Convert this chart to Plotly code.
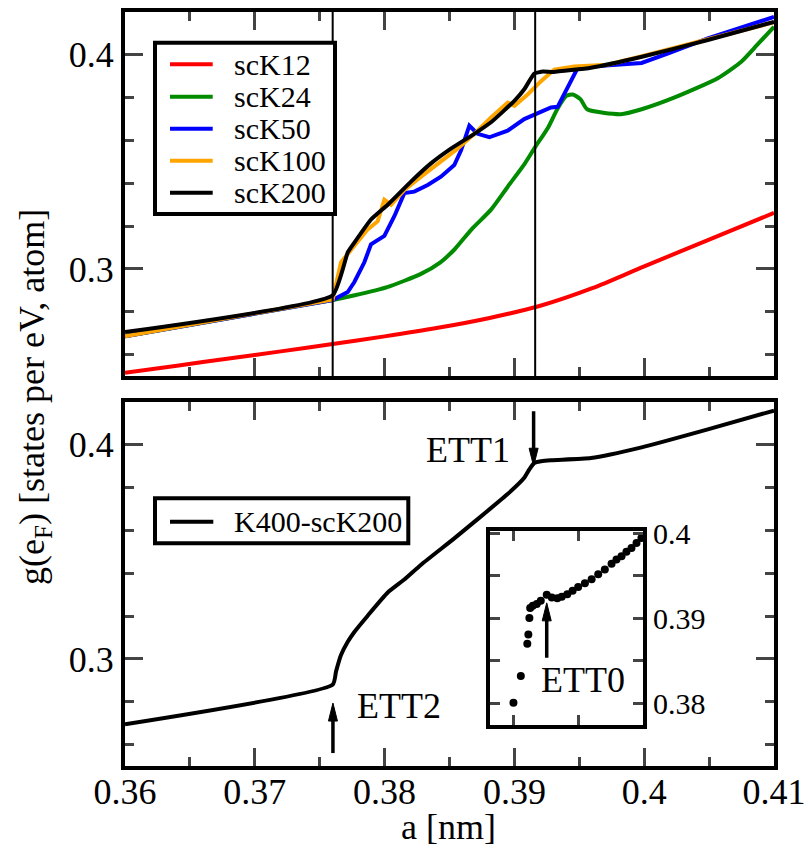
import plotly.graph_objects as go

# ---------------- data ----------------
x_sck12 = [0.360, 0.364, 0.368, 0.372, 0.376, 0.380, 0.384, 0.388, 0.392, 0.396, 0.400, 0.405, 0.410]
y_sck12 = [0.2515, 0.2548, 0.2582, 0.2615, 0.2649, 0.2685, 0.2724, 0.2770, 0.2828, 0.2910, 0.3012, 0.3137, 0.3262]

x_sck24 = [0.360, 0.376, 0.3777, 0.3802, 0.3828, 0.3843, 0.3854, 0.3867, 0.3882, 0.3895, 0.3908, 0.3916,
           0.3926, 0.3933, 0.3940, 0.3945, 0.3951, 0.3956, 0.3982, 0.3998, 0.4023, 0.4057, 0.4075, 0.4087, 0.4100]
y_sck24 = [0.2686, 0.2855, 0.2877, 0.2915, 0.2977, 0.3031, 0.3092, 0.3185, 0.3277, 0.3385, 0.3492, 0.3569,
           0.3661, 0.3746, 0.3808, 0.3815, 0.3792, 0.3746, 0.3723, 0.3746, 0.3800, 0.3892, 0.3969, 0.4046, 0.4131]

x_sck50 = [0.360, 0.376, 0.37716, 0.37767, 0.37844, 0.37895, 0.37998, 0.38075, 0.38152, 0.38229, 0.38332,
           0.38434, 0.38537, 0.38589, 0.38653, 0.38717, 0.38807, 0.38948, 0.39076, 0.39205, 0.39282, 0.39333,
           0.3941, 0.39487, 0.3959, 0.3985, 0.3998, 0.4018, 0.4049, 0.4100]
y_sck50 = [0.2686, 0.2855, 0.2892, 0.2939, 0.3031, 0.3115, 0.3154, 0.3246, 0.3354, 0.3361, 0.3392,
           0.3431, 0.3485, 0.3554, 0.3669, 0.3631, 0.3615, 0.3646, 0.3700, 0.3731, 0.3754, 0.3757,
           0.3846, 0.3938, 0.3946, 0.3955, 0.3962, 0.4006, 0.4077, 0.4177]

x_sck100 = [0.360, 0.376, 0.37664, 0.37767, 0.3787, 0.37947, 0.37998, 0.3805, 0.38152, 0.38281, 0.3846,
            0.38562, 0.38691, 0.3882, 0.38948, 0.3900, 0.39102, 0.39205, 0.39307, 0.39461, 0.39718, 0.39975, 0.4100]
y_sck100 = [0.2686, 0.2857, 0.3031, 0.3108, 0.3185, 0.3223, 0.3323, 0.3300, 0.3369, 0.3431, 0.3515,
            0.3562, 0.3631, 0.3708, 0.3777, 0.3762, 0.3815, 0.3877, 0.3931, 0.3946, 0.3954, 0.3992, 0.4152]

x_sck200 = [0.360, 0.376, 0.37716, 0.37767, 0.37895, 0.38024, 0.38203, 0.38357, 0.38511, 0.38691, 0.3882,
            0.3900, 0.39076, 0.39153, 0.3922, 0.3930, 0.3959, 0.39975, 0.4049, 0.4100]
y_sck200 = [0.2705, 0.2877, 0.3077, 0.3123, 0.3231, 0.3300, 0.3408, 0.3493, 0.3562, 0.3631, 0.3685,
            0.3785, 0.3839, 0.3912, 0.3922, 0.3920, 0.3940, 0.3990, 0.4069, 0.4154]

x_k400 = [0.360, 0.376, 0.37626, 0.37664, 0.37716, 0.37767, 0.3787, 0.38024, 0.38152, 0.38281, 0.38537,
          0.38691, 0.38948, 0.39076, 0.39115, 0.39153, 0.39205, 0.39282, 0.3959, 0.3998, 0.4049, 0.4100]
y_k400 = [0.2695, 0.2880, 0.2942, 0.3018, 0.3080, 0.3126, 0.3202, 0.3310, 0.3371, 0.3440, 0.3563,
          0.3640, 0.3770, 0.3846, 0.3885, 0.3915, 0.3923, 0.3928, 0.3938, 0.3988, 0.4072, 0.4160]

x_ett0 = [0.38948, 0.38999, 0.39056, 0.39106, 0.39114, 0.39122, 0.39128, 0.39148, 0.39179, 0.39210,
          0.39256, 0.39295, 0.39338, 0.39372, 0.39415, 0.39456, 0.39499, 0.39551, 0.39603, 0.39654,
          0.39705, 0.39757, 0.39795, 0.39834, 0.39872, 0.39911, 0.39950, 0.39988, 0.40006]
y_ett0 = [0.37747, 0.38007, 0.38322, 0.38699, 0.38808, 0.39002, 0.39119, 0.39146, 0.39166, 0.39204,
          0.39274, 0.39242, 0.39235, 0.39251, 0.39282, 0.39321, 0.39367, 0.39410, 0.39457, 0.39515,
          0.39573, 0.39639, 0.39690, 0.39728, 0.39779, 0.39825, 0.39883, 0.39942, 0.39981]

series_names = ["scK12", "scK24", "scK50", "scK100", "scK200"]
series_colors = ["#ff0000", "#008b00", "#0000ff", "#ffa500", "#000000"]
series_x = [x_sck12, x_sck24, x_sck50, x_sck100, x_sck200]
series_y = [y_sck12, y_sck24, y_sck50, y_sck100, y_sck200]
series_smooth = [0.8, 0.6, 0.0, 0.0, 0.4]

ett_lines = [0.376, 0.3916]

# annotations: label, x, y, axis
ett_labels = [("ETT1", 0.38640, 0.3974, "x2", "y2"),
              ("ETT2", 0.38113, 0.2782, "x2", "y2"),
              ("ETT0", 0.39536, 0.3827, "x3", "y3")]
# arrows: tip x, tip y, direction (+1 up, -1 down), length px, axes
ett_arrows = [(0.39148, 0.3900, -1, 55, "x2", "y2"),
              (0.37602, 0.2794, 1, 50, "x2", "y2"),
              (0.39256, 0.3918, 1, 55, "x3", "y3")]

# ---------------- layout geometry ----------------
FONT = "Liberation Serif, Times New Roman, Times, serif"
W, H = 808, 848
L, R, T, B = 125, 34, 12, 82
PW = W - L - R
PH = H - T - B


def px(xpix):
    return (xpix - L) / PW


def py(ypix):
    return (H - B - ypix) / PH


fig = go.Figure()

for name, col, xs, ys, sm in zip(series_names, series_colors, series_x, series_y, series_smooth):
    line = dict(color=col, width=4)
    if sm > 0:
        line.update(shape="spline", smoothing=sm)
    fig.add_trace(go.Scatter(x=xs, y=ys, mode="lines", name=name, line=line,
                             xaxis="x", yaxis="y", showlegend=False))

fig.add_trace(go.Scatter(x=x_k400, y=y_k400, mode="lines", name="K400-scK200",
                         line=dict(color="black", width=4, shape="spline", smoothing=0.5),
                         xaxis="x2", yaxis="y2", showlegend=False))

fig.add_trace(go.Scatter(x=x_ett0, y=y_ett0, mode="markers", name="ETT0",
                         marker=dict(color="black", size=8), xaxis="x3", yaxis="y3",
                         cliponaxis=False, showlegend=False))

common_x = dict(range=[0.36, 0.41], dtick=0.01, tick0=0.36, ticks="inside", ticklen=18, tickwidth=3,
                minor=dict(dtick=0.005, tick0=0.36, ticklen=9, tickwidth=3, ticks="inside"),
                showline=True, linewidth=4, linecolor="black", mirror="ticks", automargin=False,
                showgrid=False, zeroline=False, tickfont=dict(family=FONT, size=36, color="black"))
common_y = dict(range=[0.25, 0.42], dtick=0.1, tick0=0, ticks="inside", ticklen=18, tickwidth=3,
                minor=dict(dtick=0.02, tick0=0, ticklen=9, tickwidth=3, ticks="inside"),
                showline=True, linewidth=4, linecolor="black", mirror="ticks", automargin=False,
                showgrid=False, zeroline=False, tickfont=dict(family=FONT, size=36, color="black"))

top_dom = [py(376), 1.0]
bot_dom = [0.0, py(402)]

fig.update_layout(
    width=W, height=H,
    margin=dict(l=L, r=R, t=T, b=B, autoexpand=False),
    paper_bgcolor="white", plot_bgcolor="white",
    font=dict(family=FONT, size=36, color="black"),
    showlegend=False,
    xaxis=dict(**common_x, domain=[0, 1], anchor="y", showticklabels=False),
    yaxis=dict(**common_y, domain=top_dom, anchor="x"),
    xaxis2=dict(**common_x, domain=[0, 1], anchor="y2", ticklabelposition="outside",
                ticklabelstandoff=-9),
    yaxis2=dict(**common_y, domain=bot_dom, anchor="x2"),
    xaxis3=dict(domain=[px(490.3), px(643)], anchor="y3", range=[0.3882, 0.4000],
                dtick=0.005, tick0=0.39, ticks="inside", ticklen=10, tickwidth=3,
                showticklabels=False, showline=True, linewidth=4, linecolor="black",
                mirror="ticks", showgrid=False, zeroline=False, automargin=False),
    yaxis3=dict(domain=[py(724.7), py(531.3)], anchor="x3", side="right", range=[0.3775, 0.4002],
                dtick=0.01, tick0=0, ticks="inside", ticklen=10, tickwidth=3,
                minor=dict(dtick=0.005, tick0=0, ticklen=10, tickwidth=3, ticks="inside"),
                showline=True, linewidth=4, linecolor="black", mirror="ticks",
                showgrid=False, zeroline=False, automargin=False,
                tickfont=dict(family=FONT, size=30, color="black")),
)

shapes = []
annotations = []

# vertical ETT reference lines in top panel
for xv in ett_lines:
    shapes.append(dict(type="line", xref="x", yref="y domain", x0=xv, x1=xv, y0=0, y1=1,
                       line=dict(color="black", width=2)))

# legend 1 (top panel)
shapes.append(dict(type="rect", xref="paper", yref="paper", x0=px(155), x1=px(335),
                   y0=py(214), y1=py(42.7), line=dict(color="black", width=4),
                   fillcolor="white", layer="above"))
rows = [64.3, 96.7, 128.7, 160.7, 192.7]
for name, col, ry in zip(series_names, series_colors, rows):
    shapes.append(dict(type="line", xref="paper", yref="paper", x0=px(170), x1=px(212.7),
                       y0=py(ry), y1=py(ry), line=dict(color=col, width=4)))
    annotations.append(dict(text=name, xref="paper", yref="paper", x=px(231.7), y=py(ry),
                            xanchor="left", yanchor="middle", showarrow=False,
                            font=dict(family=FONT, size=30, color="black")))

# legend 2 (bottom panel)
shapes.append(dict(type="rect", xref="paper", yref="paper", x0=px(155), x1=px(408.3),
                   y0=py(543.3), y1=py(498.3), line=dict(color="black", width=4),
                   fillcolor="white", layer="above"))
shapes.append(dict(type="line", xref="paper", yref="paper", x0=px(170), x1=px(213.3),
                   y0=py(521.7), y1=py(521.7), line=dict(color="black", width=4)))
annotations.append(dict(text="K400-scK200", xref="paper", yref="paper", x=px(231.7), y=py(521.7),
                        xanchor="left", yanchor="middle", showarrow=False,
                        font=dict(family=FONT, size=30, color="black")))

# ETT labels
for txt, xa, ya, xr, yr in ett_labels:
    annotations.append(dict(text=txt, xref=xr, yref=yr, x=xa, y=ya, xanchor="center",
                            yanchor="middle", showarrow=False,
                            font=dict(family=FONT, size=36, color="black")))

# arrows (pixel-sized, anchored at tip)
HEADLEN, HEADW = 18, 4.5
for xa, ya, d, ln, xr, yr in ett_arrows:
    s = -d  # tail side sign in pixel space (+ up)
    shapes.append(dict(type="line", xref=xr, yref=yr, xsizemode="pixel", ysizemode="pixel",
                       xanchor=xa, yanchor=ya, x0=0, x1=0, y0=s * (HEADLEN - 2), y1=s * ln,
                       line=dict(color="black", width=3.5)))
    shapes.append(dict(type="path", xref=xr, yref=yr, xsizemode="pixel", ysizemode="pixel",
                       xanchor=xa, yanchor=ya,
                       path=f"M0,0 L{-HEADW},{s * HEADLEN} L{HEADW},{s * HEADLEN} Z",
                       fillcolor="black", line=dict(color="black", width=1)))

# axis titles
annotations.append(dict(text="g(e<sub>F</sub>) [states per eV, atom]", xref="paper", yref="paper",
                        x=px(34), y=py(397), xanchor="center", yanchor="middle", textangle=-90,
                        showarrow=False, font=dict(family=FONT, size=36, color="black")))
annotations.append(dict(text="a [nm]", xref="paper", yref="paper",
                        x=px(448.5), y=py(849), xanchor="center", yanchor="bottom",
                        showarrow=False, font=dict(family=FONT, size=36, color="black")))

fig.update_layout(shapes=shapes, annotations=annotations)

fig.write_html("out.html")
